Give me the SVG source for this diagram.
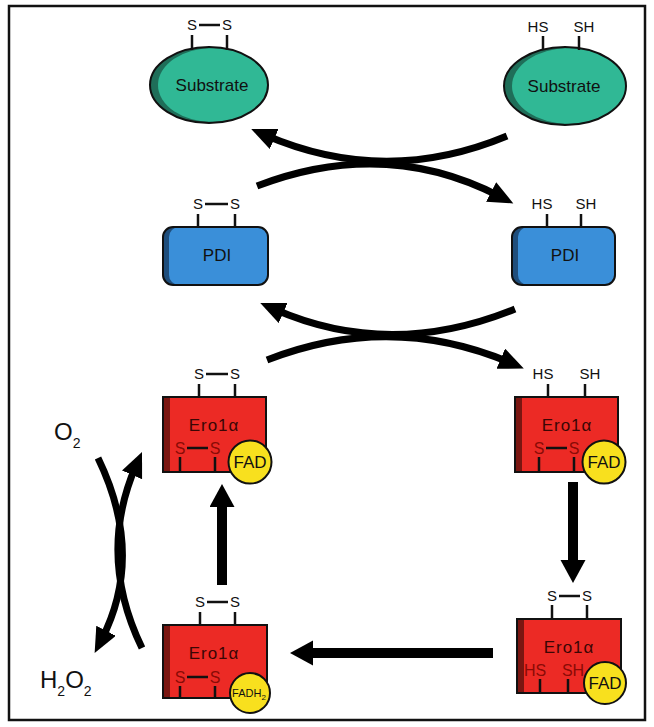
<svg xmlns="http://www.w3.org/2000/svg" width="654" height="727" viewBox="0 0 654 727">
<defs>
<style>
text{font-family:"Liberation Sans",Arial,sans-serif;}
.s{font-size:15px;fill:#111;text-anchor:middle;}
.bond{stroke:#111;stroke-width:2.5;fill:none;}
.stub{stroke:#111;stroke-width:2.5;}
.ol{fill:none;stroke:#111;stroke-width:2;}
.lbl{font-size:17px;fill:#111;text-anchor:middle;}
.ero{font-size:17px;fill:#3a0604;text-anchor:middle;letter-spacing:1px;}
.si{font-size:16px;fill:#8a0a06;text-anchor:middle;}
.red{fill:#ec2a25;}
.dred{fill:#7a1611;}
.fad{fill:#f8e01e;stroke:#111;stroke-width:2;}
.fadt{font-size:17px;fill:#111;text-anchor:middle;}
.cur{fill:none;stroke:#000;stroke-width:7;marker-end:url(#ah);}
.str{fill:none;stroke:#000;stroke-width:10;marker-end:url(#bh);}
.chem{font-size:24px;fill:#111;}
</style>
<marker id="ah" markerUnits="userSpaceOnUse" markerWidth="26" markerHeight="24" refX="10" refY="11" orient="auto" viewBox="0 0 26 24">
<path d="M0,0 L25,11 L0,22 z" fill="#000"/>
</marker>
<marker id="bh" markerUnits="userSpaceOnUse" markerWidth="26" markerHeight="28" refX="2" refY="12.5" orient="auto" viewBox="0 0 26 28">
<path d="M0,0 L23,12.5 L0,25 z" fill="#000"/>
</marker>
</defs>
<rect x="0" y="0" width="654" height="727" fill="#fff"/>
<rect x="9" y="6" width="636" height="714" fill="none" stroke="#111" stroke-width="2.5"/>

<g id="substrate-ox">
<ellipse cx="209" cy="85" rx="59" ry="38" fill="#1f6e59"/>
<ellipse cx="213" cy="85" rx="55" ry="37" fill="#30b895"/>
<ellipse cx="209" cy="85" rx="59" ry="38" class="ol"/>
<text x="212" y="91" class="lbl">Substrate</text>
<line x1="192" y1="35" x2="192" y2="50" class="stub"/>
<line x1="227" y1="35" x2="227" y2="50" class="stub"/>
<text x="192" y="30" class="s">S</text>
<text x="227" y="30" class="s">S</text>
<line x1="199" y1="25" x2="220" y2="25" class="bond"/>
</g>

<g id="substrate-red">
<ellipse cx="565" cy="86" rx="61" ry="39" fill="#1f6e59"/>
<ellipse cx="569" cy="86" rx="57" ry="38" fill="#30b895"/>
<ellipse cx="565" cy="86" rx="61" ry="39" class="ol"/>
<text x="564" y="92" class="lbl">Substrate</text>
<line x1="543" y1="36" x2="543" y2="50" class="stub"/>
<line x1="579" y1="36" x2="579" y2="50" class="stub"/>
<text x="538" y="32" class="s">HS</text>
<text x="584" y="32" class="s">SH</text>
</g>

<g id="pdi-ox">
<rect x="163" y="227" width="105" height="58" rx="10" fill="#1f4e7c"/>
<rect x="169" y="227" width="99" height="58" rx="10" fill="#3a8fd9"/>
<rect x="163" y="227" width="105" height="58" rx="10" class="ol"/>
<text x="217" y="261" class="lbl">PDI</text>
<line x1="198" y1="214" x2="198" y2="227" class="stub"/>
<line x1="235" y1="214" x2="235" y2="227" class="stub"/>
<text x="198" y="209" class="s">S</text>
<text x="235" y="209" class="s">S</text>
<line x1="205" y1="204" x2="228" y2="204" class="bond"/>
</g>

<g id="pdi-red">
<rect x="512" y="227" width="103" height="58" rx="10" fill="#1f4e7c"/>
<rect x="518" y="227" width="97" height="58" rx="10" fill="#3a8fd9"/>
<rect x="512" y="227" width="103" height="58" rx="10" class="ol"/>
<text x="565" y="261" class="lbl">PDI</text>
<line x1="547" y1="214" x2="547" y2="227" class="stub"/>
<line x1="581" y1="214" x2="581" y2="227" class="stub"/>
<text x="542" y="209" class="s">HS</text>
<text x="586" y="209" class="s">SH</text>
</g>

<g id="ero-tl">
<rect x="163" y="397" width="103" height="75" class="red"/>
<rect x="163" y="397" width="7" height="75" class="dred"/>
<rect x="163" y="397" width="103" height="75" class="ol"/>
<text x="214" y="431" class="ero">Ero1α</text>
<text x="180" y="454" class="si">S</text>
<text x="215" y="454" class="si">S</text>
<line x1="187" y1="448" x2="208" y2="448" class="bond"/>
<line x1="180" y1="457" x2="180" y2="472" class="stub"/>
<line x1="215" y1="457" x2="215" y2="472" class="stub"/>
<line x1="199" y1="384" x2="199" y2="397" class="stub"/>
<line x1="235" y1="384" x2="235" y2="397" class="stub"/>
<text x="199" y="379" class="s">S</text>
<text x="235" y="379" class="s">S</text>
<line x1="206" y1="374" x2="228" y2="374" class="bond"/>
<circle cx="250" cy="462" r="21.5" class="fad"/>
<text x="250" y="468" class="fadt">FAD</text>
</g>

<g id="ero-tr">
<rect x="515" y="397" width="103" height="75" class="red"/>
<rect x="515" y="397" width="7" height="75" class="dred"/>
<rect x="515" y="397" width="103" height="75" class="ol"/>
<text x="567" y="431" class="ero">Ero1α</text>
<text x="539" y="454" class="si">S</text>
<text x="574" y="454" class="si">S</text>
<line x1="546" y1="448" x2="567" y2="448" class="bond"/>
<line x1="539" y1="457" x2="539" y2="472" class="stub"/>
<line x1="574" y1="457" x2="574" y2="472" class="stub"/>
<line x1="548" y1="384" x2="548" y2="397" class="stub"/>
<line x1="585" y1="384" x2="585" y2="397" class="stub"/>
<text x="543" y="379" class="s">HS</text>
<text x="590" y="379" class="s">SH</text>
<circle cx="604" cy="462" r="21.5" class="fad"/>
<text x="604" y="468" class="fadt">FAD</text>
</g>

<g id="ero-bl">
<rect x="163" y="625" width="104" height="73" class="red"/>
<rect x="163" y="625" width="7" height="73" class="dred"/>
<rect x="163" y="625" width="104" height="73" class="ol"/>
<text x="214" y="659" class="ero">Ero1α</text>
<text x="180" y="683" class="si">S</text>
<text x="215" y="683" class="si">S</text>
<line x1="187" y1="677" x2="208" y2="677" class="bond"/>
<line x1="180" y1="686" x2="180" y2="698" class="stub"/>
<line x1="215" y1="686" x2="215" y2="698" class="stub"/>
<line x1="200" y1="612" x2="200" y2="625" class="stub"/>
<line x1="235" y1="612" x2="235" y2="625" class="stub"/>
<text x="200" y="607" class="s">S</text>
<text x="235" y="607" class="s">S</text>
<line x1="207" y1="602" x2="228" y2="602" class="bond"/>
<circle cx="250" cy="693" r="20" class="fad"/>
<text x="249" y="697" style="font-size:11px;fill:#111;text-anchor:middle">FADH<tspan dy="3" style="font-size:8px">2</tspan></text>
</g>

<g id="ero-br">
<rect x="517" y="619" width="104" height="74" class="red"/>
<rect x="517" y="619" width="7" height="74" class="dred"/>
<rect x="517" y="619" width="104" height="74" class="ol"/>
<text x="569" y="653" class="ero">Ero1α</text>
<text x="535" y="676" class="si">HS</text>
<text x="573" y="676" class="si">SH</text>
<line x1="540" y1="679" x2="540" y2="693" class="stub"/>
<line x1="568" y1="679" x2="568" y2="693" class="stub"/>
<line x1="552" y1="605" x2="552" y2="619" class="stub"/>
<line x1="587" y1="605" x2="587" y2="619" class="stub"/>
<text x="552" y="601" class="s">S</text>
<text x="587" y="601" class="s">S</text>
<line x1="559" y1="596" x2="580" y2="596" class="bond"/>
<circle cx="605" cy="683" r="21" class="fad"/>
<text x="605" y="689" class="fadt">FAD</text>
</g>

<g id="o2-label">
<text x="54" y="440" class="chem">O<tspan dy="8" style="font-size:14px">2</tspan></text>
</g>
<g id="h2o2-label">
<text x="40" y="688" class="chem">H<tspan dy="8" style="font-size:14px">2</tspan><tspan dy="-8">O</tspan><tspan dy="8" style="font-size:14px">2</tspan></text>
</g>

<g id="connectors">
<path d="M507 136 Q385 187 265 135" class="cur"/>
<path d="M257 186 Q385 137 500 196.5" class="cur"/>
<path d="M515 309 Q390 360 274 309" class="cur"/>
<path d="M267 360 Q390 312 510 362.6" class="cur"/>
<path d="M98 458 Q145 555 101.5 639.6" class="cur"/>
<path d="M142 648 Q97 555 136 465.7" class="cur"/>
<line x1="573" y1="482" x2="573" y2="562" class="str"/>
<line x1="222" y1="585" x2="222" y2="505" class="str"/>
<line x1="493" y1="653" x2="311" y2="653" class="str"/>
</g>
</svg>
